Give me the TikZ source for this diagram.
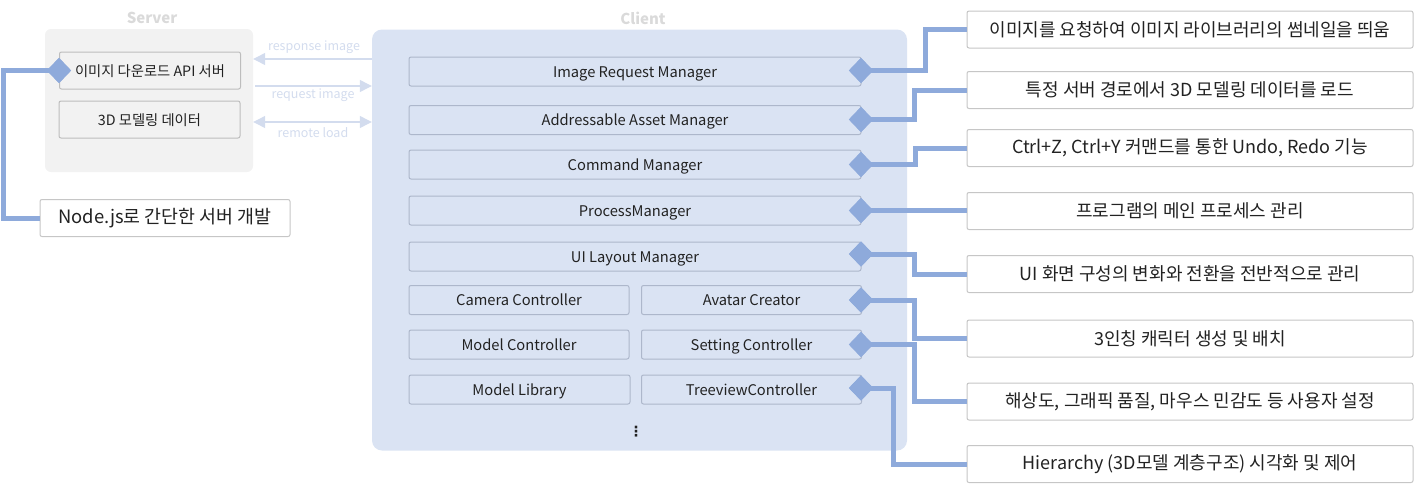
\documentclass[tikz,border=0pt]{standalone}
\usepackage{fontspec}
\setmainfont{Noto Sans CJK KR}
\newfontfamily\dejavu{DejaVu Sans}
\usetikzlibrary{shapes.geometric,arrows.meta}
\definecolor{cpanel}{HTML}{DAE3F3}
\definecolor{spanel}{HTML}{F2F2F2}
\definecolor{cborder}{HTML}{ADB7CB}
\definecolor{sborder}{HTML}{BDBDBD}
\definecolor{rborder}{HTML}{C6C6C6}
\definecolor{accent}{HTML}{8EAADB}
\definecolor{faint}{HTML}{D3DCEE}
\definecolor{titlegray}{HTML}{DADADA}
\definecolor{ink}{HTML}{222222}
\tikzset{
  spanelbox/.style={fill=spanel, rounded corners=6pt, inner sep=0pt, minimum width=208, minimum height=143},
  cpanelbox/.style={fill=cpanel, rounded corners=10pt, inner sep=0pt, minimum width=535, minimum height=421},
  title/.style={text=titlegray, font=\fontsize{15}{17}\selectfont\bfseries},
  sbox/.style={draw=sborder, fill=spanel, line width=1pt, rounded corners=2pt, minimum width=181, minimum height=37, inner sep=0pt, text=ink, font=\fontsize{14.3}{16}\selectfont, text height=12pt, text depth=0.5pt},
  wbox/.style={draw=cborder, fill=cpanel, line width=1pt, rounded corners=2pt, minimum width=452, minimum height=29, inner sep=0pt, text=ink, font=\fontsize{14.7}{16}\selectfont, text height=12pt, text depth=1pt},
  hbox/.style={wbox, minimum width=220},
  rbox/.style={draw=rborder, fill=white, line width=1pt, rounded corners=2pt, minimum width=446, minimum height=37, inner sep=0pt, text=ink, font=\fontsize{18}{20}\selectfont},
  dia/.style={diamond, fill=accent, inner sep=0pt, minimum width=24, minimum height=25},
  conn/.style={draw=accent, line width=5pt},
  flow/.style={draw=faint, line width=1.2pt},
  flowlbl/.style={text=faint, font=\fontsize{12.5}{14}\selectfont},
}
\begin{document}
\begin{tikzpicture}[x=1pt,y=-1pt]
\useasboundingbox (0,0) rectangle (1415,490);
% panels
\node[spanelbox] (server) at (149,100.5) {};
\node[cpanelbox] (client) at (639.5,240) {};
\node[title] (servert) at (152,18) {Server};
\node[title] (clientt) at (643,18) {Client};
% server boxes
\node[sbox] (s1) at (150,70.5) {이미지 다운로드 API 서버};
\node[sbox] (s2) at (149.5,119.5) {3D 모델링 데이터};
\node[rbox, minimum width=250, font=\fontsize{18.4}{20}\selectfont] (nj) at (165,218) {Node.js로 간단한 서버 개발};
% arrows between server and client
\coordinate (ya) at (0,59);
\coordinate (yb) at (0,86);
\coordinate (yc) at (0,122);
\draw[flow, -{Triangle[length=12pt,width=12pt]}] (client.west |- ya) -- (server.east |- ya);
\draw[flow, -{Triangle[length=12pt,width=12pt]}] ([xshift=2pt]server.east |- yb) -- (client.west |- yb);
\draw[flow, {Triangle[length=12pt,width=12pt]}-{Triangle[length=12pt,width=12pt]}] (server.east |- yc) -- (client.west |- yc);
\node[flowlbl] (l1) at (314,47.5) {response image};
\node[flowlbl] (l2) at (313,95) {request image};
\node[flowlbl] (l3) at (313,133) {remote load};
% client boxes
\node[wbox] (c1) at (635,71.5) {Image Request Manager};
\node[wbox] (c2) at (635,120) {Addressable Asset Manager};
\node[wbox] (c3) at (635,164.5) {Command Manager};
\node[wbox] (c4) at (635,210.5) {ProcessManager};
\node[wbox] (c5) at (635,256.5) {UI Layout Manager};
\node[hbox] (c6) at (519,300) {Camera Controller};
\node[hbox] (c7) at (751.5,300) {Avatar Creator};
\node[hbox] (c8) at (519,344.5) {Model Controller};
\node[hbox] (c9) at (751.5,344.5) {Setting Controller};
\node[hbox, minimum width=221] (c10) at (519.5,389.5) {Model Library};
\node[hbox] (c11) at (751.5,389.5) {TreeviewController};
\node[text=ink, font=\dejavu\bfseries\fontsize{14}{15}\selectfont, inner sep=0pt] (dots) at (636,432) {⋮};
% right description boxes
\node[rbox] (r1) at (1190,29.5) {이미지를 요청하여 이미지 라이브러리의 썸네일을 띄움};
\node[rbox] (r2) at (1190,90) {특정 서버 경로에서 3D 모델링 데이터를 로드};
\node[rbox] (r3) at (1190,148) {Ctrl+Z, Ctrl+Y 커맨드를 통한 Undo, Redo 기능};
\node[rbox] (r4) at (1190,211) {프로그램의 메인 프로세스 관리};
\node[rbox] (r5) at (1190,274) {UI 화면 구성의 변화와 전환을 전반적으로 관리};
\node[rbox] (r6) at (1190,338.5) {3인칭 캐릭터 생성 및 배치};
\node[rbox] (r7) at (1190,401.5) {해상도, 그래픽 품질, 마우스 민감도 등 사용자 설정};
\node[rbox] (r8) at (1190,464) {Hierarchy (3D모델 계층구조) 시각화 및 제어};
% diamonds
\node[dia] (ds) at (59,70.5) {};
\node[dia] (d1) at (861,70.5) {};
\node[dia] (d2) at (861,119.5) {};
\node[dia] (d3) at (861,164.5) {};
\node[dia] (d4) at (861,210.5) {};
\node[dia] (d5) at (861,254) {};
\node[dia] (d7) at (861,300) {};
\node[dia] (d9) at (861,344.5) {};
\node[dia] (d11) at (861,388) {};
% elbow x positions
\coordinate (vl) at (3.5,0);
\coordinate (v1) at (925,0);
\coordinate (v2) at (914,0);
\coordinate (v3) at (915,0);
\coordinate (v5) at (914,0);
\coordinate (v8) at (893,0);
% connectors
\draw[conn] (ds.center) -| (vl |- nj.west) -- (nj.west);
\draw[conn] (d1.center) -| (v1 |- r1.west) -- (r1.west);
\draw[conn] (d2.center) -| (v2 |- r2.west) -- (r2.west);
\draw[conn] (d3.center) -| (v3 |- r3.west) -- (r3.west);
\draw[conn] (d4.center) -- (r4.west |- d4.center);
\draw[conn] (d5.center) -| (v5 |- r5.west) -- (r5.west);
\draw[conn] (d7.center) -| (v5 |- r6.west) -- (r6.west);
\draw[conn] (d9.center) -| (v5 |- r7.west) -- (r7.west);
\draw[conn] (d11.center) -| (v8 |- r8.west) -- (r8.west);
% redraw diamonds on top of the connectors
\foreach \d in {ds,d1,d2,d3,d4,d5,d7,d9,d11}{\fill[accent] (\d.north) -- (\d.east) -- (\d.south) -- (\d.west) -- cycle;}
\end{tikzpicture}
\end{document}
